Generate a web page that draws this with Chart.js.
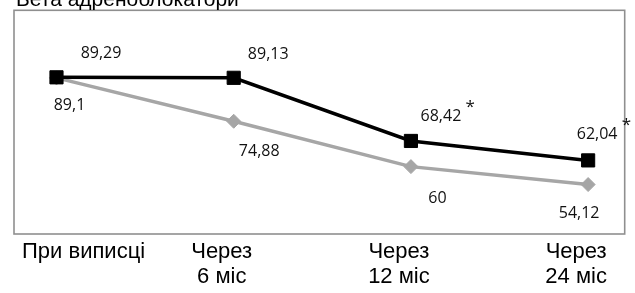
<!DOCTYPE html>
<html>
<head>
<meta charset="utf-8">
<script src="https://cdn.jsdelivr.net/npm/chart.js@4/dist/chart.umd.min.js"></script>
<style>
  html, body { margin: 0; padding: 0; background: #fff; }
  canvas { display: block; }
</style>
</head>
<body>
<canvas id="c" width="635" height="293"></canvas>
<script>
// ---- data ----
const chartTitle = 'Бета адреноблокатори';
const categories = [['При виписці'], ['Через', '6 міс'], ['Через', '12 міс'], ['Через', '24 міс']];
const blackValues = [89.29, 89.13, 68.42, 62.04];
const grayValues = [89.1, 74.88, 60, 54.12];
const blackNotes = ['', '', '*', '*'];
const grayNotes = ['', '', '', ''];

// ---- styling (label placement relative to each point) ----
const blackLabelOffsets = [[44.5, -23.5], [34.5, -23.5], [30, -24.5], [9, -26]];
const grayLabelOffsets = [[13, 27.5], [25.5, 30.5], [26.5, 32], [-9, 29]];

function fmt(v) { return String(v).replace('.', ','); }

const decor = {
  id: 'decor',
  afterDatasetsDraw(chart) {
    const ctx = chart.ctx;
    const a = chart.chartArea;
    const xs = chart.scales.x, ys = chart.scales.y;
    ctx.save();
    // frame
    ctx.strokeStyle = '#8f8f8f';
    ctx.lineWidth = 1.6;
    ctx.strokeRect(a.left, a.top, a.right - a.left, a.bottom - a.top);
    // title (partly cut off above the canvas)
    ctx.fillStyle = '#000';
    ctx.font = '21px "Liberation Sans", Arial, sans-serif';
    ctx.textAlign = 'left';
    ctx.textBaseline = 'alphabetic';
    ctx.fillText(chartTitle, a.left + 2, 6);
    // value labels
    ctx.textBaseline = 'middle';
    ctx.textAlign = 'center';
    ctx.fillStyle = '#111';
    const drawSet = (vals, offs, notes) => {
      vals.forEach((v, i) => {
        const px = xs.getPixelForValue(i), py = ys.getPixelForValue(v);
        const lx = px + offs[i][0], ly = py + offs[i][1];
        const txt = fmt(v);
        ctx.font = '16px "Open Sans", sans-serif';
        ctx.fillText(txt, lx, ly);
        if (notes[i]) {
          const w = ctx.measureText(txt).width;
          ctx.font = '17px "Open Sans", sans-serif';
          ctx.fillText(notes[i], lx + w / 2 + 9, ly - 9);
        }
      });
    };
    drawSet(blackValues, blackLabelOffsets, blackNotes);
    drawSet(grayValues, grayLabelOffsets, grayNotes);
    // category labels
    ctx.font = '22px "Liberation Sans", Arial, sans-serif';
    ctx.textBaseline = 'alphabetic';
    ctx.fillStyle = '#000';
    categories.forEach((lines, i) => {
      const px = xs.getPixelForValue(i) - 12;
      lines.forEach((ln, j) => {
        const w = ctx.measureText(ln).width;
        let left = px - w / 2;
        if (left < a.left + 8) left = a.left + 8;
        ctx.textAlign = 'left';
        ctx.fillText(ln, left, a.bottom + 24 + j * 25);
      });
    });
    ctx.restore();
  }
};

new Chart(document.getElementById('c'), {
  type: 'line',
  data: {
    datasets: [
      {
        data: blackValues.map((v, i) => ({ x: i, y: v })),
        borderColor: '#000',
        backgroundColor: '#000',
        borderWidth: 3.5,
        pointStyle: 'rect',
        pointRadius: 9.3,
        pointBorderWidth: 1,
        pointBorderColor: '#000',
        pointBackgroundColor: '#000',
        tension: 0
      },
      {
        data: grayValues.map((v, i) => ({ x: i, y: v })),
        borderColor: '#a6a6a6',
        backgroundColor: '#a6a6a6',
        borderWidth: 3.5,
        pointStyle: 'rectRot',
        pointRadius: 7,
        pointBorderWidth: 1,
        pointBorderColor: '#a6a6a6',
        pointBackgroundColor: '#a6a6a6',
        tension: 0
      }
    ]
  },
  options: {
    responsive: false,
    animation: false,
    devicePixelRatio: 1,
    layout: { padding: { left: 14, right: 3, top: 8, bottom: 59 } },
    plugins: { legend: { display: false }, tooltip: { enabled: false }, title: { display: false } },
    scales: {
      x: { type: 'linear', min: -0.2398, max: 3.2063, display: false },
      y: { type: 'linear', min: 37.9, max: 111.27, display: false }
    }
  },
  plugins: [decor]
});
</script>
</body>
</html>
